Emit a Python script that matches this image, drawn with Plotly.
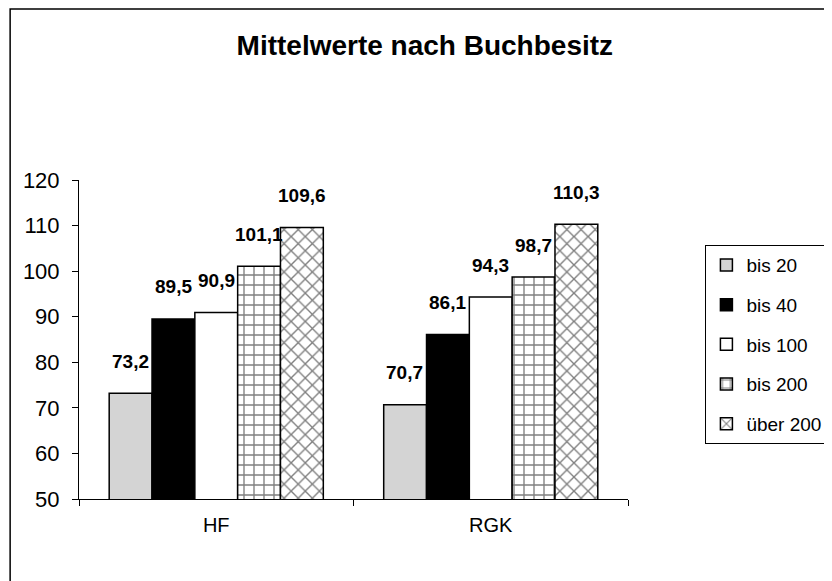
import plotly.graph_objects as go

categories = ["HF", "RGK"]
series = ["bis 20", "bis 40", "bis 100", "bis 200", "über 200"]
values = {
    "bis 20": [73.2, 70.7],
    "bis 40": [89.5, 86.1],
    "bis 100": [90.9, 94.3],
    "bis 200": [101.1, 98.7],
    "über 200": [109.6, 110.3],
}
labels = {
    "bis 20": ["73,2", "70,7"],
    "bis 40": ["89,5", "86,1"],
    "bis 100": ["90,9", "94,3"],
    "bis 200": ["101,1", "98,7"],
    "über 200": ["109,6", "110,3"],
}

fills = ["#d4d4d4", "black", "white", "white", "white"]
patterns = ["", "", "", "+", "x"]

fig = go.Figure()
for i, s in enumerate(series):
    fig.add_trace(go.Bar(
        x=categories, y=values[s], name=s,
        marker=dict(color=fills[i], line=dict(color="black", width=1.5),
                    pattern=dict(shape=patterns[i], fgcolor="black",
                                 bgcolor=fills[i], size=10, solidity=0.25)),
        legendgroup=s,
    ))

# value labels above the bars
bar_px = 43
for i, s in enumerate(series):
    for j, c in enumerate(categories):
        fig.add_annotation(x=c, y=values[s][j], text="<b>" + labels[s][j] + "</b>",
                           xshift=(i - 2) * bar_px, yshift=32, showarrow=False,
                           font=dict(size=19, color="black"))

# outer frame (page has an 8px body margin); right and bottom run off the page
L, T, W, H = 71, 172, 558, 319
fig.add_shape(type="rect", xref="paper", yref="paper",
              x0=(1 - L) / W, x1=(900 - L) / W,
              y0=(T + H - 650) / H, y1=(T + H - 1) / H,
              line=dict(color="black", width=1.5))

fig.update_layout(
    width=832, height=581,
    margin=dict(l=L, r=832 - L - W, t=T, b=581 - T - H),
    paper_bgcolor="white", plot_bgcolor="white",
    font=dict(family="Liberation Sans, Arial", color="black", size=19),
    title=dict(text="<b>Mittelwerte nach Buchbesitz</b>", x=0.501, xanchor="center",
               xref="container", y=0.936, yanchor="middle", yref="container",
               font=dict(size=28)),
    barmode="group", bargap=0.22, bargroupgap=0,
    showlegend=True,
    legend=dict(x=1.141, y=0.796, xanchor="left", yanchor="top",
                bordercolor="black", borderwidth=1, tracegroupgap=12,
                font=dict(size=19), itemwidth=30),
)
fig.update_xaxes(showline=True, linecolor="black", linewidth=1, ticks="outside",
                 tickson="boundaries", ticklen=6, tickcolor="black",
                 tickfont=dict(size=20), ticklabelstandoff=8, showgrid=False)
fig.update_yaxes(range=[50, 120], dtick=10, showline=True, linecolor="black",
                 linewidth=1, ticks="outside", ticklen=6, tickcolor="black",
                 tickfont=dict(size=22), ticklabelstandoff=8, showgrid=False,
                 zeroline=False)

fig.write_html("out.html")
